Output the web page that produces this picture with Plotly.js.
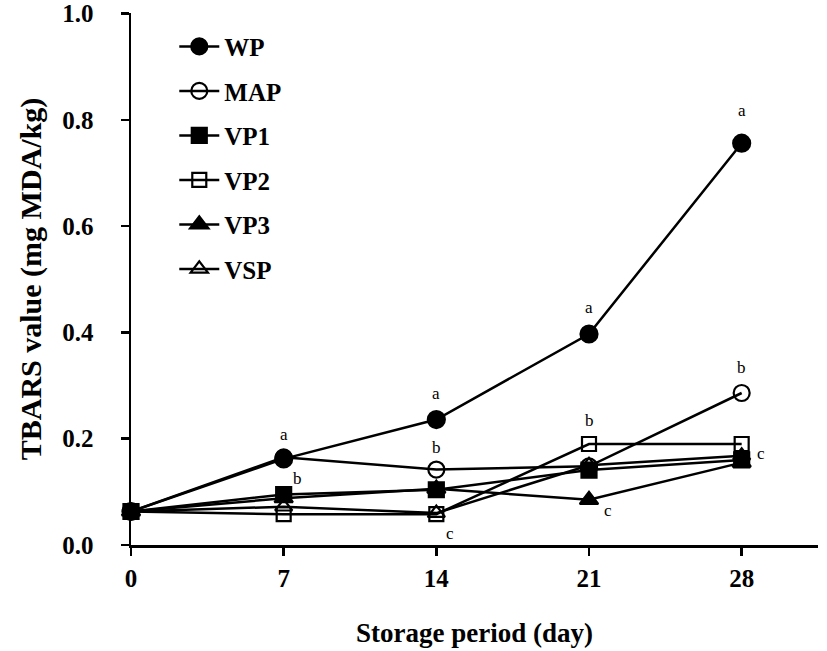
<!DOCTYPE html>
<html>
<head>
<meta charset="utf-8">
<script src="https://cdn.plot.ly/plotly-3.0.1.min.js"></script>
<style>html,body{margin:0;padding:0;background:#fff;}#chart{width:827px;height:651px;}</style>
</head>
<body>
<div id="chart"></div>
<script>
const days = [0, 7, 14, 21, 28];
const seriesNames = ["WP", "MAP", "VP1", "VP2", "VP3", "VSP"];
const WP  = [0.063, 0.162, 0.236, 0.397, 0.756];
const MAP = [0.063, 0.165, 0.142, 0.148, 0.286];
const VP1 = [0.063, 0.095, 0.104, 0.141, 0.160];
const VP2 = [0.063, 0.058, 0.058, 0.190, 0.190];
const VP3 = [0.063, 0.088, 0.106, 0.085, 0.155];
const VSP = [0.063, 0.072, 0.060, 0.150, 0.168];
const xTickVals = [0, 7, 14, 21, 28];
const yTickVals = [0, 0.2, 0.4, 0.6, 0.8, 1.0];
const yTickText = ["0.0", "0.2", "0.4", "0.6", "0.8", "1.0"];
// significance letters anchored on a point of the chart
const sigDays    = [7, 14, 21, 28, 7, 14, 21, 28, 14, 21, 28];
const sigAnchors = [0.162, 0.236, 0.397, 0.756, 0.095, 0.142, 0.190, 0.286, 0.058, 0.085, 0.168];
const sigLetters = ["a", "a", "a", "a", "b", "b", "b", "b", "c", "c", "c"];

const serif = "Liberation Serif, Times New Roman, serif";
const styles = {
  WP:  {symbol: "circle", size: 17},
  MAP: {symbol: "circle-open", size: 16},
  VP1: {symbol: "square", size: 15},
  VP2: {symbol: "square-open", size: 14},
  VP3: {symbol: "triangle-up", size: 16},
  VSP: {symbol: "triangle-up-open", size: 15}
};
const dataMap = {WP, MAP, VP1, VP2, VP3, VSP};
const drawOrder = ["VSP", "VP3", "VP2", "VP1", "MAP", "WP"];
const traces = drawOrder.map(n => ({
  x: days, y: dataMap[n], name: n, type: "scatter", mode: "lines+markers",
  legendrank: seriesNames.indexOf(n) + 1,
  legendgroup: n,
  line: {color: "#000", width: 2.5},
  marker: {symbol: styles[n].symbol, size: styles[n].size, color: "#000",
           line: {color: "#000", width: 2.2}},
  cliponaxis: false
}));

// [dx px, dy px upward]
const offsets = [
  [0, 24], [0, 26], [0, 27], [0, 33],
  [14, 16], [0, 22], [0, 24], [0, 26],
  [14, -19], [19, -11], [19, 2]
];
const annotations = sigDays.map((d, i) => ({
  x: d, y: sigAnchors[i], xref: "x", yref: "y", text: sigLetters[i],
  showarrow: false, xshift: offsets[i][0], yshift: offsets[i][1],
  font: {family: serif, size: 17, color: "#000"}
}));

const layout = {
  width: 827, height: 651,
  margin: {l: 131, r: 9, t: 13, b: 106},
  paper_bgcolor: "#fff", plot_bgcolor: "#fff",
  showlegend: true,
  legend: {
    x: 0.063, y: 0.98, xanchor: "left", yanchor: "top",
    traceorder: "grouped", tracegroupgap: 9,
    font: {family: serif, size: 25, color: "#000", weight: "bold"},
    bgcolor: "rgba(0,0,0,0)", itemwidth: 40
  },
  xaxis: {
    range: [0, 31.5], tickvals: xTickVals, ticktext: xTickVals.map(String),
    showgrid: false, zeroline: false, showline: true, linecolor: "#000", linewidth: 2.5,
    ticks: "outside", ticklen: 8, tickwidth: 2.5, tickcolor: "#000",
    ticklabelstandoff: 1,
    tickfont: {family: serif, size: 25, color: "#000", weight: "bold"},
    title: {text: "Storage period (day)", standoff: 33,
            font: {family: serif, size: 27, color: "#000", weight: "bold"}}
  },
  yaxis: {
    range: [0, 1.001], tickvals: yTickVals, ticktext: yTickText,
    showgrid: false, zeroline: false, showline: true, linecolor: "#000", linewidth: 2.5,
    ticks: "outside", ticklen: 8, tickwidth: 2.5, tickcolor: "#000",
    ticklabelstandoff: 22,
    ticklabeloverflow: "allow",
    tickfont: {family: serif, size: 25, color: "#000", weight: "bold"},
    title: {text: "TBARS value (mg MDA/kg)", standoff: 12,
            font: {family: serif, size: 30, color: "#000", weight: "bold"}}
  },
  annotations: annotations
};

Plotly.newPlot("chart", traces, layout, {displayModeBar: false, staticPlot: true});
</script>
</body>
</html>
